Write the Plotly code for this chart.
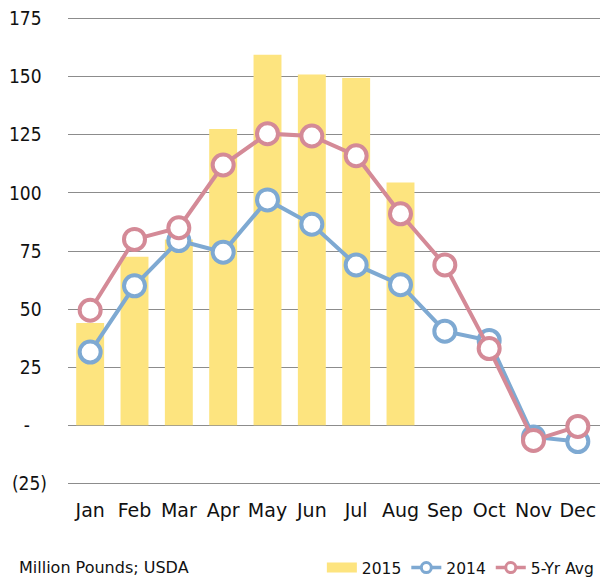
import plotly.graph_objects as go

months = ["Jan", "Feb", "Mar", "Apr", "May", "Jun", "Jul", "Aug", "Sep", "Oct", "Nov", "Dec"]
y2015 = [44, 72.5, 80, 127.5, 159.5, 151, 149.5, 104.5, None, None, None, None]
y2014 = [31.5, 60, 79.5, 74.5, 97, 86.5, 69, 60.5, 40.5, 36.5, -5, -7]
y5yr = [49.5, 80, 85, 112, 125.5, 124.5, 116, 91, 69, 33, -6.5, -0.5]
tick_vals = [-25, 0, 25, 50, 75, 100, 125, 150, 175]
tick_text = ["(25)", "-\u2003", "25\u2008", "50\u2008", "75\u2008", "100\u2008",
             "125\u2008", "150\u2008", "175\u2008"]

FONT_C = "DejaVu Sans Condensed, DejaVu Sans"
FONT = "DejaVu Sans"
BLUE = "#7EA9D2"
PINK = "#D48A97"
YELLOW = "#FDE47F"
fig = go.Figure()
fig.add_trace(go.Bar(x=months, y=y2015, name="2015", marker_color=YELLOW,
                     marker_line_width=0, showlegend=False))
fig.add_trace(go.Scatter(x=months, y=y2014, name="2014", mode="lines+markers", showlegend=False,
                         line=dict(color=BLUE, width=4),
                         marker=dict(symbol="circle", size=21, color="white",
                                     line=dict(color=BLUE, width=4))))
fig.add_trace(go.Scatter(x=months, y=y5yr, name="5-Yr Avg", mode="lines+markers", showlegend=False,
                         line=dict(color=PINK, width=4),
                         marker=dict(symbol="circle", size=21, color="white",
                                     line=dict(color=PINK, width=4))))
# legend-only entries
fig.add_trace(go.Scatter(x=[None], y=[None], name="2015", mode="lines",
                         line=dict(color=YELLOW, width=10)))
fig.add_trace(go.Scatter(x=[None], y=[None], name="2014", mode="lines+markers",
                         line=dict(color=BLUE, width=3.5),
                         marker=dict(size=10, color="white", line=dict(color=BLUE, width=3))))
fig.add_trace(go.Scatter(x=[None], y=[None], name="5-Yr Avg", mode="lines+markers",
                         line=dict(color=PINK, width=3.5),
                         marker=dict(size=10, color="white", line=dict(color=PINK, width=3))))

fig.update_layout(
    width=605, height=580,
    margin=dict(l=68, r=5, t=17, b=95, autoexpand=False),
    paper_bgcolor="white", plot_bgcolor="white",
    bargap=0.37,
    font=dict(family=FONT, color="#111111"),
    showlegend=True,
    legend=dict(orientation="h", xref="container", yref="container",
                x=0.532, xanchor="left", y=(580 - 568) / 580, yanchor="middle",
                font=dict(size=15.5, family=FONT), itemwidth=30, traceorder="normal",
                bgcolor="rgba(0,0,0,0)"),
    annotations=[dict(text="Million Pounds; USDA", xref="paper", yref="paper",
                      x=-0.095, y=-0.176, xanchor="left", yanchor="middle",
                      showarrow=False, font=dict(size=16, family=FONT))],
)
fig.update_xaxes(range=[-0.5, 11.5], showgrid=False, showline=False, ticks="",
                 tickfont=dict(size=19, family=FONT),
                 ticklabelstandoff=12, automargin=False)
fig.update_yaxes(range=[-25.7, 175.7], tickvals=tick_vals, ticktext=tick_text,
                 showgrid=True, gridcolor="#8C8C8C", gridwidth=1,
                 zeroline=True, zerolinecolor="#8C8C8C", zerolinewidth=1,
                 showline=False, ticks="", tickfont=dict(size=19, family=FONT_C),
                 ticklabelstandoff=20, automargin=False)

fig.write_html("out.html", config={"displayModeBar": False},
               post_script="document.body.style.margin='0';")
